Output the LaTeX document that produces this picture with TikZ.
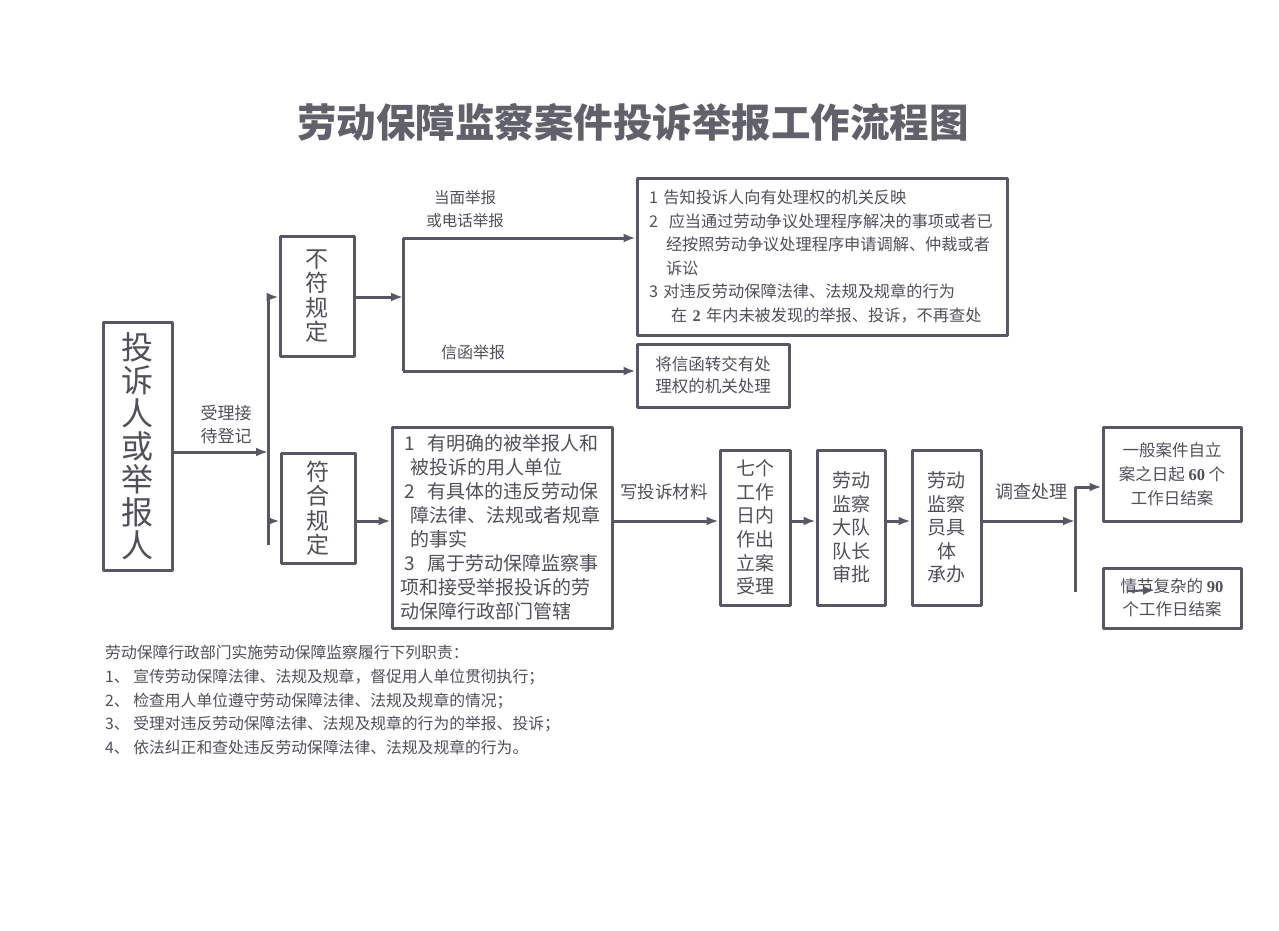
\documentclass[tikz,border=0pt]{standalone}
\usepackage{fontspec}
\newfontfamily\cjk{Noto Sans CJK SC}
\newfontfamily\numfont{Liberation Serif}
\usetikzlibrary{arrows.meta}
\definecolor{linec}{RGB}{90,86,102}
\definecolor{textc}{RGB}{80,80,90}
\newcommand{\fs}[2]{\fontsize{#1}{#2}\selectfont}
\newcommand{\bnum}[1]{{\numfont\bfseries #1}}
\tikzset{
  box/.style={draw=linec,line width=3pt,inner sep=0pt,align=center},
  lbl/.style={text=textc,inner sep=0pt,align=center},
  link/.style={draw=linec,line width=3pt},
  arr/.style={link,-{Latex[length=12pt,width=9pt]}},
}
\begin{document}
\begin{tikzpicture}[x=1pt,y=-1pt,line join=round,font=\cjk,text=textc]
\useasboundingbox[fill=white] (0,0) rectangle (1279,930);
\node[lbl,text=textc!90!white,font=\cjk\bfseries\fs{39.5}{42}] (title) at (633,122) {劳动保障监察案件投诉举报工作流程图};

\node[box,minimum width=69,minimum height=248,font=\cjk\fs{32}{33}] (main) at (137.5,446) {投\\诉\\人\\或\\举\\报\\人};
\node[box,minimum width=74,minimum height=120,font=\cjk\fs{23}{24.5}] (nf) at (317,296) {不\\符\\规\\定};
\node[box,minimum width=74,minimum height=110,font=\cjk\fs{23}{24.5}] (fh) at (318,508) {符\\合\\规\\定};

\node[box,minimum width=370,minimum height=157,align=left,text width=346,inner xsep=12,font=\cjk\fs{16.2}{23.6}] (rules) at (822,256.5)
{1~告知投诉人向有处理权的机关反映\\
2~~应当通过劳动争议处理程序解决的事项或者已\\
\hspace*{17pt}经按照劳动争议处理程序申请调解、仲裁或者\\
\hspace*{17pt}诉讼\\
3~对违反劳动保障法律、法规及规章的行为\\
\hspace*{22pt}在~\bnum{2}~年内未被发现的举报、投诉，不再查处};
\node[box,minimum width=152,minimum height=63,font=\cjk\fs{16.5}{22}] (letter) at (713,375.5) {将信函转交有处\\理权的机关处理};

\node[box,minimum width=220,minimum height=201,align=left,text width=196,inner xsep=12,font=\cjk\fs{19}{24}] (cond) at (502,527.5)
{1~~有明确的被举报人和\\
\hspace*{6pt}被投诉的用人单位\\
2~~有具体的违反劳动保\\
\hspace*{6pt}障法律、法规或者规章\\
\hspace*{6pt}的事实\\
3~~属于劳动保障监察事\\
\hspace*{-4pt}项和接受举报投诉的劳\\
\hspace*{-4pt}动保障行政部门管辖};

\node[box,minimum width=70,minimum height=155,font=\cjk\fs{19}{23.6}] (lian) at (755,527.5) {七个\\工作\\日内\\作出\\立案\\受理};
\node[box,minimum width=68,minimum height=155,font=\cjk\fs{19}{23.6}] (shen) at (851,527.5) {劳动\\监察\\大队\\队长\\审批};
\node[box,minimum width=69,minimum height=155,font=\cjk\fs{19}{23.6}] (ban) at (946.5,527.5) {劳动\\监察\\员具\\体\\承办};

\node[box,minimum width=138,minimum height=94,font=\cjk\fs{16.5}{24}] (ord) at (1172,474) {一般案件自立\\案之日起~\bnum{60}~个\\工作日结案};
\node[box,minimum width=138,minimum height=60,font=\cjk\fs{16.5}{23}] (cplx) at (1172,598) {情节复杂的~\bnum{90}\\个工作日结案};

\node[lbl,font=\cjk\fs{17}{23}] (reg) at (226,424) {受理接\\待登记};
\node[lbl,font=\cjk\fs{15.5}{23}] (face) at (465,209) {当面举报\\或电话举报};
\node[lbl,font=\cjk\fs{16}{20}] (mail) at (473,352) {信函举报};
\node[lbl,font=\cjk\fs{17.5}{20}] (write) at (664,492) {写投诉材料};
\node[lbl,font=\cjk\fs{18}{20}] (inv) at (1031,492) {调查处理};

\node[lbl,anchor=north west,align=left,font=\cjk\fs{15.8}{23.8}] (duty) at (105,645)
{劳动保障行政部门实施劳动保障监察履行下列职责：\\
1、~宣传劳动保障法律、法规及规章，督促用人单位贯彻执行；\\
2、~检查用人单位遵守劳动保障法律、法规及规章的情况；\\
3、~受理对违反劳动保障法律、法规及规章的行为的举报、投诉；\\
4、~依法纠正和查处违反劳动保障法律、法规及规章的行为。};

\coordinate (j1) at (268,452);
\coordinate (t1) at (268,297);
\coordinate (t2) at (268,545);
\coordinate (j2) at (268,521);
\coordinate (j3) at (403,297);
\coordinate (b1) at (403,238);
\coordinate (b2) at (403,371);
\coordinate (c1) at (1075,521);
\coordinate (c2) at (1075,487);
\coordinate (c3) at (1075,592);
\coordinate (s1) at (1128,591);
\coordinate (s2) at (1155,590);

\draw[arr] (main.east |- j1) -- (j1);
\draw[link] (t1) -- (t2);
\draw[arr] (t1) -- (nf.west |- t1);
\draw[arr] (j2) -- (fh.west |- j2);
\draw[arr] (nf.east |- j3) -- (j3);
\draw[link] (b1) -- (b2);
\draw[arr] (b1) -- (rules.west |- b1);
\draw[arr] (b2) -- (letter.west |- b2);
\draw[arr] (fh.east |- j2) -- (cond.west |- j2);
\draw[arr] (cond.east |- j2) -- (lian.west |- j2);
\draw[arr] (lian.east |- j2) -- (shen.west |- j2);
\draw[arr] (shen.east |- j2) -- (ban.west |- j2);
\draw[arr] (ban.east |- c1) -- (c1);
\draw[link] (c2) -- (c3);
\draw[arr] (c2) -- (ord.west |- c2);
\draw[arr,line width=2.2pt] (s1) -- (s2);
\end{tikzpicture}
\end{document}
